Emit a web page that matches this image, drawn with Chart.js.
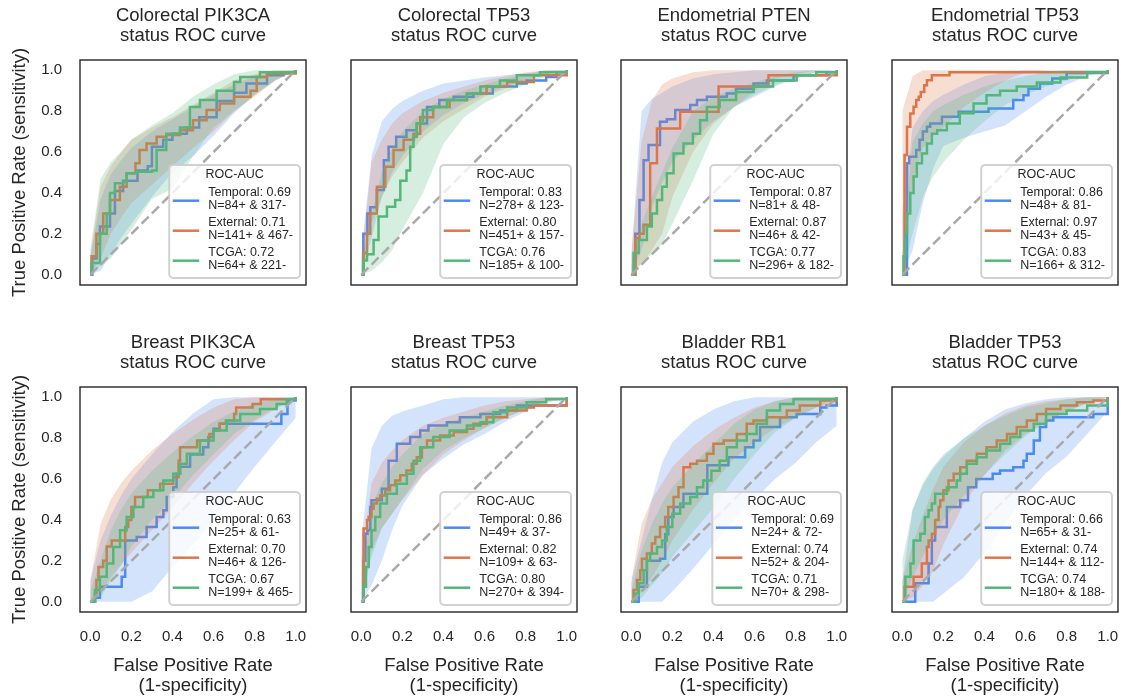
<!DOCTYPE html>
<html>
<head>
<meta charset="utf-8">
<script src="https://cdn.jsdelivr.net/npm/chart.js@4.4.1/dist/chart.umd.min.js"></script>
<style>
  body { margin: 0; background: #fff; width: 1121px; height: 700px; overflow: hidden; position: relative; }
  canvas { position: absolute; }
</style>
</head>
<body>
<script>
// panel titles, first line (second line is always "status ROC curve")
const titles = ['Colorectal PIK3CA', 'Colorectal TP53', 'Endometrial PTEN', 'Endometrial TP53',
                'Breast PIK3CA', 'Breast TP53', 'Bladder RB1', 'Bladder TP53'];

const tickValues = [0, 0.2, 0.4, 0.6, 0.8, 1.0];

// ROC-AUC per panel
const aucTemporal = [0.69, 0.83, 0.87, 0.86, 0.63, 0.86, 0.69, 0.66];
const aucExternal = [0.71, 0.80, 0.87, 0.97, 0.70, 0.82, 0.74, 0.74];
const aucTcga     = [0.72, 0.76, 0.77, 0.83, 0.67, 0.80, 0.71, 0.74];

// cohort sizes (positives / negatives)
const posTemporal = [84, 278, 81, 48, 25, 49, 24, 65];
const negTemporal = [317, 123, 48, 81, 61, 37, 72, 31];
const posExternal = [141, 451, 46, 43, 46, 109, 52, 144];
const negExternal = [467, 157, 42, 45, 126, 63, 204, 112];
const posTcga     = [64, 185, 296, 166, 199, 270, 70, 180];
const negTcga     = [221, 100, 182, 312, 465, 394, 298, 188];

// ROC curves as flat [fpr, tpr, fpr, tpr, ...] lists (step-before)
const rocTemporal = [
  [0,0, 0.01,0.08, 0.03,0.15, 0.047,0.236, 0.096,0.30, 0.12,0.41, 0.16,0.46, 0.23,0.51, 0.28,0.53, 0.30,0.626, 0.355,0.66, 0.40,0.69, 0.47,0.72, 0.53,0.77, 0.615,0.85, 0.70,0.89, 0.76,0.935, 0.86,0.975, 0.94,0.99, 1,1],
  [0,0, 0.01,0.2, 0.03,0.30, 0.044,0.33, 0.076,0.415, 0.11,0.56, 0.133,0.626, 0.17,0.675, 0.22,0.707, 0.27,0.74, 0.32,0.82, 0.38,0.854, 0.45,0.87, 0.546,0.886, 0.64,0.92, 0.757,0.935, 0.805,0.95, 0.90,0.967, 0.95,0.99, 1,1],
  [0,0, 0.02,0.2, 0.04,0.366, 0.06,0.56, 0.084,0.634, 0.14,0.748, 0.173,0.76, 0.214,0.805, 0.287,0.83, 0.32,0.854, 0.368,0.87, 0.465,0.886, 0.51,0.91, 0.595,0.935, 0.66,0.95, 0.79,0.976, 0.95,0.99, 1,1],
  [0,0, 0.011,0, 0.023,0.545, 0.034,0.577, 0.068,0.61, 0.084,0.66, 0.1,0.70, 0.12,0.724, 0.136,0.74, 0.193,0.772, 0.274,0.797, 0.42,0.813, 0.54,0.854, 0.59,0.878, 0.614,0.91, 0.67,0.935, 0.73,0.96, 0.80,0.987, 1,1],
  [0,0, 0.023,0.02, 0.047,0.073, 0.153,0.122, 0.17,0.30, 0.226,0.317, 0.274,0.366, 0.323,0.415, 0.356,0.447, 0.372,0.512, 0.404,0.56, 0.42,0.626, 0.437,0.66, 0.486,0.72, 0.55,0.756, 0.575,0.805, 0.60,0.846, 0.63,0.87, 0.93,0.918, 0.96,0.984, 1,1],
  [0,0, 0.011,0.2, 0.02,0.333, 0.03,0.35, 0.044,0.463, 0.05,0.496, 0.1,0.553, 0.133,0.69, 0.173,0.772, 0.238,0.805, 0.287,0.837, 0.327,0.862, 0.417,0.878, 0.48,0.902, 0.58,0.918, 0.676,0.935, 0.757,0.96, 1,1],
  [0,0, 0.036,0.073, 0.076,0.2, 0.14,0.21, 0.165,0.33, 0.18,0.415, 0.206,0.463, 0.254,0.528, 0.37,0.667, 0.473,0.707, 0.554,0.756, 0.595,0.789, 0.627,0.854, 0.724,0.902, 0.805,0.918, 0.92,0.95, 0.95,0.96, 1,1],
  [0,0, 0.04,0, 0.063,0.09, 0.128,0.187, 0.144,0.30, 0.16,0.366, 0.217,0.463, 0.282,0.496, 0.32,0.56, 0.36,0.6, 0.44,0.626, 0.476,0.642, 0.54,0.658, 0.59,0.69, 0.606,0.724, 0.64,0.789, 0.67,0.854, 0.70,0.886, 0.735,0.902, 0.93,0.918, 1,1]
];
const rocExternal = [
  [0,0, 0.006,0.09, 0.03,0.2, 0.063,0.30, 0.096,0.366, 0.144,0.43, 0.177,0.496, 0.22,0.545, 0.24,0.61, 0.274,0.642, 0.323,0.675, 0.37,0.683, 0.437,0.707, 0.50,0.756, 0.566,0.805, 0.63,0.837, 0.70,0.87, 0.78,0.90, 0.81,0.967, 0.86,0.984, 1,1],
  [0,0, 0.011,0.106, 0.028,0.2, 0.044,0.3, 0.076,0.43, 0.117,0.528, 0.157,0.61, 0.206,0.66, 0.254,0.69, 0.287,0.77, 0.35,0.82, 0.43,0.854, 0.514,0.886, 0.61,0.92, 0.71,0.943, 0.84,0.976, 1,1],
  [0,0, 0.02,0.18, 0.04,0.2, 0.06,0.244, 0.092,0.545, 0.125,0.715, 0.238,0.797, 0.425,0.92, 0.668,0.976, 1,1],
  [0,0, 0.011,0.585, 0.023,0.724, 0.039,0.789, 0.055,0.821, 0.068,0.854, 0.08,0.87, 0.09,0.894, 0.107,0.927, 0.12,0.951, 0.144,0.976, 0.23,0.99, 1,1],
  [0,0, 0.023,0.04, 0.03,0.106, 0.04,0.17, 0.063,0.2, 0.08,0.27, 0.104,0.30, 0.145,0.30, 0.17,0.366, 0.185,0.40, 0.2,0.463, 0.218,0.512, 0.274,0.512, 0.28,0.545, 0.34,0.577, 0.404,0.61, 0.43,0.69, 0.437,0.756, 0.5,0.756, 0.52,0.789, 0.55,0.789, 0.58,0.82, 0.6,0.837, 0.63,0.87, 0.66,0.886, 0.70,0.918, 0.71,0.95, 0.76,0.95, 0.79,0.967, 0.83,0.99, 1,1],
  [0,0, 0.011,0.358, 0.028,0.4, 0.036,0.415, 0.05,0.455, 0.06,0.48, 0.076,0.504, 0.092,0.52, 0.117,0.545, 0.14,0.57, 0.165,0.593, 0.19,0.618, 0.22,0.642, 0.246,0.675, 0.27,0.707, 0.295,0.756, 0.32,0.789, 0.384,0.813, 0.45,0.83, 0.514,0.846, 0.546,0.87, 0.61,0.902, 0.71,0.935, 0.805,0.95, 0.84,0.96, 1,0.984, 1,1],
  [0,0, 0.011,0.057, 0.028,0.106, 0.044,0.154, 0.052,0.21, 0.076,0.236, 0.1,0.285, 0.117,0.317, 0.14,0.366, 0.165,0.415, 0.18,0.463, 0.206,0.512, 0.23,0.56, 0.254,0.658, 0.287,0.675, 0.32,0.69, 0.368,0.724, 0.4,0.772, 0.45,0.789, 0.514,0.82, 0.562,0.87, 0.595,0.886, 0.66,0.902, 0.757,0.935, 0.82,0.96, 0.92,0.984, 1,1],
  [0,0, 0.011,0.073, 0.03,0.073, 0.055,0.122, 0.095,0.187, 0.12,0.268, 0.128,0.3, 0.144,0.333, 0.16,0.4, 0.177,0.463, 0.185,0.496, 0.2,0.545, 0.225,0.593, 0.25,0.626, 0.282,0.658, 0.314,0.69, 0.363,0.724, 0.41,0.756, 0.46,0.789, 0.51,0.82, 0.557,0.854, 0.606,0.886, 0.655,0.918, 0.70,0.943, 0.77,0.96, 0.85,0.976, 0.93,0.984, 1,1]
];
const rocTcga = [
  [0,0, 0.006,0.057, 0.047,0.2, 0.08,0.3, 0.096,0.40, 0.12,0.447, 0.16,0.455, 0.177,0.496, 0.225,0.504, 0.30,0.51, 0.323,0.61, 0.37,0.69, 0.437,0.72, 0.485,0.82, 0.534,0.854, 0.615,0.90, 0.70,0.943, 0.73,0.967, 0.826,0.99, 1,1],
  [0,0, 0.011,0.07, 0.028,0.1, 0.06,0.17, 0.084,0.285, 0.125,0.333, 0.165,0.366, 0.19,0.46, 0.22,0.51, 0.238,0.626, 0.254,0.675, 0.27,0.74, 0.30,0.805, 0.35,0.82, 0.417,0.854, 0.514,0.886, 0.58,0.92, 0.675,0.95, 0.757,0.976, 0.87,0.99, 1,1],
  [0,0, 0.011,0.106, 0.036,0.17, 0.076,0.236, 0.1,0.3, 0.125,0.366, 0.15,0.43, 0.173,0.496, 0.206,0.593, 0.254,0.642, 0.30,0.69, 0.335,0.756, 0.368,0.82, 0.43,0.854, 0.51,0.894, 0.595,0.92, 0.69,0.95, 0.805,0.976, 0.9,0.99, 1,1],
  [0,0, 0.006,0.09, 0.015,0.2, 0.023,0.3, 0.039,0.4, 0.055,0.48, 0.071,0.545, 0.096,0.593, 0.12,0.642, 0.144,0.69, 0.17,0.707, 0.217,0.74, 0.28,0.79, 0.347,0.837, 0.41,0.878, 0.476,0.90, 0.557,0.92, 0.655,0.94, 0.77,0.965, 0.9,0.99, 1,1],
  [0,0, 0.023,0.057, 0.047,0.122, 0.08,0.187, 0.112,0.268, 0.145,0.35, 0.177,0.415, 0.21,0.463, 0.258,0.512, 0.307,0.545, 0.356,0.593, 0.404,0.626, 0.437,0.675, 0.47,0.724, 0.534,0.789, 0.6,0.837, 0.664,0.886, 0.73,0.918, 0.826,0.943, 0.907,0.967, 0.956,0.99, 1,1],
  [0,0, 0.011,0.073, 0.023,0.17, 0.036,0.268, 0.05,0.35, 0.068,0.415, 0.092,0.48, 0.125,0.528, 0.173,0.577, 0.222,0.626, 0.254,0.69, 0.287,0.756, 0.35,0.805, 0.43,0.837, 0.514,0.862, 0.58,0.878, 0.643,0.927, 0.71,0.95, 0.805,0.976, 0.9,0.99, 1,1],
  [0,0, 0.02,0.04, 0.036,0.09, 0.06,0.154, 0.076,0.2, 0.092,0.236, 0.125,0.268, 0.15,0.3, 0.173,0.366, 0.2,0.43, 0.238,0.48, 0.287,0.512, 0.32,0.56, 0.35,0.593, 0.39,0.64, 0.43,0.69, 0.465,0.756, 0.514,0.789, 0.562,0.82, 0.61,0.87, 0.66,0.935, 0.724,0.967, 0.79,0.99, 1,1],
  [0,0, 0.015,0.122, 0.04,0.187, 0.055,0.3, 0.088,0.333, 0.11,0.415, 0.128,0.447, 0.144,0.48, 0.16,0.528, 0.217,0.56, 0.25,0.56, 0.265,0.593, 0.282,0.626, 0.314,0.675, 0.363,0.707, 0.41,0.74, 0.476,0.772, 0.525,0.805, 0.574,0.837, 0.64,0.87, 0.70,0.918, 0.8,0.935, 0.9,0.96, 1,0.976, 1,1]
];

// confidence bands, sampled at bandX
const bandX = [0, 0.05, 0.1, 0.15, 0.2, 0.3, 0.4, 0.5, 0.6, 0.7, 0.8, 0.9, 1];
const hiTemporal = [
  [0.08, 0.37, 0.49, 0.56, 0.62, 0.70, 0.76, 0.82, 0.88, 0.93, 0.97, 0.99, 1],
  [0.10, 0.58, 0.75, 0.81, 0.85, 0.90, 0.935, 0.95, 0.965, 0.975, 0.985, 0.995, 1],
  [0.10, 0.80, 0.86, 0.89, 0.92, 0.96, 0.98, 0.99, 1, 1, 1, 1, 1],
  [0.30, 0.72, 0.80, 0.85, 0.88, 0.93, 0.97, 0.99, 1, 1, 1, 1, 1],
  [0.10, 0.30, 0.42, 0.52, 0.60, 0.72, 0.83, 0.92, 0.99, 1, 1, 1, 1],
  [0.30, 0.75, 0.86, 0.91, 0.93, 0.96, 0.99, 1, 1, 1, 1, 1, 1],
  [0.10, 0.30, 0.50, 0.68, 0.78, 0.88, 0.94, 0.98, 1, 1, 1, 1, 1],
  [0.10, 0.45, 0.57, 0.65, 0.71, 0.80, 0.88, 0.94, 0.97, 0.99, 1, 1, 1]
];
const loTemporal = [
  [0, 0.02, 0.10, 0.18, 0.25, 0.38, 0.50, 0.58, 0.68, 0.79, 0.88, 0.95, 1],
  [0, 0.18, 0.38, 0.50, 0.58, 0.70, 0.78, 0.84, 0.88, 0.92, 0.95, 0.98, 1],
  [0, 0.12, 0.33, 0.45, 0.55, 0.66, 0.75, 0.82, 0.87, 0.92, 0.96, 0.99, 1],
  [0, 0.12, 0.35, 0.52, 0.63, 0.67, 0.70, 0.73, 0.80, 0.87, 0.93, 0.97, 1],
  [0, 0, 0, 0, 0, 0.05, 0.17, 0.28, 0.40, 0.53, 0.66, 0.78, 0.90],
  [0, 0.08, 0.20, 0.35, 0.47, 0.62, 0.70, 0.77, 0.82, 0.88, 0.93, 0.97, 1],
  [0, 0, 0, 0, 0.05, 0.16, 0.28, 0.40, 0.50, 0.60, 0.68, 0.78, 0.86],
  [0, 0, 0, 0, 0.04, 0.12, 0.24, 0.38, 0.52, 0.63, 0.71, 0.82, 0.93]
];
const hiExternal = [
  [0.10, 0.43, 0.53, 0.60, 0.66, 0.72, 0.77, 0.83, 0.89, 0.95, 0.98, 1, 1],
  [0.08, 0.55, 0.66, 0.74, 0.79, 0.85, 0.89, 0.92, 0.95, 0.97, 0.99, 1, 1],
  [0.10, 0.65, 0.85, 0.93, 0.96, 0.99, 1, 1, 1, 1, 1, 1, 1],
  [0.80, 0.97, 1, 1, 1, 1, 1, 1, 1, 1, 1, 1, 1],
  [0.10, 0.38, 0.50, 0.58, 0.64, 0.74, 0.82, 0.89, 0.95, 0.99, 1, 1, 1],
  [0.20, 0.58, 0.68, 0.74, 0.79, 0.86, 0.90, 0.93, 0.96, 0.98, 0.99, 1, 1],
  [0.10, 0.38, 0.50, 0.58, 0.66, 0.76, 0.84, 0.90, 0.95, 0.98, 1, 1, 1],
  [0.10, 0.28, 0.42, 0.55, 0.66, 0.78, 0.86, 0.92, 0.96, 0.98, 0.99, 1, 1]
];
const loExternal = [
  [0, 0.08, 0.20, 0.28, 0.35, 0.44, 0.53, 0.62, 0.70, 0.80, 0.87, 0.95, 1],
  [0, 0.25, 0.38, 0.48, 0.55, 0.67, 0.75, 0.81, 0.87, 0.91, 0.95, 0.98, 1],
  [0, 0.05, 0.12, 0.20, 0.38, 0.60, 0.74, 0.82, 0.90, 0.96, 0.98, 1, 1],
  [0, 0.45, 0.62, 0.68, 0.72, 0.82, 0.89, 0.95, 0.99, 1, 1, 1, 1],
  [0, 0.04, 0.12, 0.18, 0.24, 0.35, 0.46, 0.58, 0.69, 0.79, 0.88, 0.94, 1],
  [0, 0.25, 0.36, 0.43, 0.50, 0.62, 0.72, 0.79, 0.85, 0.90, 0.94, 0.98, 1],
  [0, 0.05, 0.12, 0.20, 0.30, 0.45, 0.58, 0.70, 0.78, 0.85, 0.90, 0.95, 0.97],
  [0, 0.02, 0.08, 0.15, 0.28, 0.48, 0.62, 0.74, 0.82, 0.88, 0.93, 0.97, 1]
];
const hiTcga = [
  [0.12, 0.47, 0.55, 0.60, 0.66, 0.73, 0.79, 0.87, 0.93, 0.98, 1, 1, 1],
  [0.05, 0.30, 0.50, 0.62, 0.70, 0.80, 0.86, 0.90, 0.93, 0.96, 0.98, 1, 1],
  [0.05, 0.25, 0.38, 0.50, 0.62, 0.80, 0.87, 0.91, 0.94, 0.97, 0.99, 1, 1],
  [0.10, 0.65, 0.74, 0.80, 0.83, 0.88, 0.92, 0.95, 0.97, 0.99, 1, 1, 1],
  [0.05, 0.20, 0.35, 0.45, 0.53, 0.64, 0.73, 0.81, 0.88, 0.93, 0.97, 0.99, 1],
  [0.10, 0.47, 0.58, 0.66, 0.72, 0.82, 0.87, 0.90, 0.93, 0.96, 0.98, 1, 1],
  [0.05, 0.25, 0.38, 0.48, 0.56, 0.67, 0.77, 0.87, 0.94, 0.98, 1, 1, 1],
  [0.20, 0.45, 0.58, 0.66, 0.72, 0.80, 0.86, 0.91, 0.95, 0.97, 0.99, 1, 1]
];
const loTcga = [
  [0, 0.04, 0.08, 0.15, 0.22, 0.37, 0.42, 0.58, 0.72, 0.80, 0.88, 0.95, 1],
  [0, 0.02, 0.06, 0.12, 0.22, 0.40, 0.64, 0.77, 0.84, 0.89, 0.93, 0.97, 1],
  [0, 0.06, 0.10, 0.15, 0.25, 0.46, 0.69, 0.82, 0.88, 0.93, 0.96, 0.99, 1],
  [0, 0.20, 0.38, 0.48, 0.55, 0.66, 0.75, 0.83, 0.88, 0.92, 0.95, 0.98, 1],
  [0, 0.02, 0.10, 0.18, 0.27, 0.40, 0.50, 0.62, 0.72, 0.82, 0.89, 0.95, 1],
  [0, 0.22, 0.36, 0.43, 0.50, 0.65, 0.74, 0.80, 0.85, 0.90, 0.94, 0.98, 1],
  [0, 0.02, 0.08, 0.14, 0.22, 0.34, 0.46, 0.60, 0.72, 0.83, 0.90, 0.95, 1],
  [0, 0.12, 0.22, 0.32, 0.40, 0.52, 0.62, 0.72, 0.81, 0.88, 0.93, 0.97, 1]
];

const FONT = "'Liberation Sans', Arial, sans-serif";
const TEXT = '#262626';
Chart.defaults.font.family = FONT;
Chart.defaults.color = TEXT;

const seriesNames = ['Temporal', 'External', 'TCGA'];
const seriesColors = ['#4a8af4', '#df7649', '#55b67a'];
const rocs = [rocTemporal, rocExternal, rocTcga];
const his = [hiTemporal, hiExternal, hiTcga];
const los = [loTemporal, loExternal, loTcga];
const aucs = [aucTemporal, aucExternal, aucTcga];
const poss = [posTemporal, posExternal, posTcga];
const negs = [negTemporal, negExternal, negTcga];

// axes frame positions on the page
const frameLeft = [80, 351, 621, 892];
const frameTop = [60, 387];

function toPoints(flat) {
  const pts = [];
  for (let i = 0; i < flat.length; i += 2) pts.push({ x: flat[i], y: flat[i + 1] });
  return pts;
}
function bandPoints(ys) {
  return ys.map((y, i) => ({ x: bandX[i], y: y }));
}
function alpha(hex, a) {
  const n = parseInt(hex.slice(1), 16);
  return `rgba(${n >> 16}, ${(n >> 8) & 255}, ${n & 255}, ${a})`;
}
// keep every panel's plot area the same size, whatever its tick labels need
function fixedBox(w, h) {
  return s => {
    if (w) s.width = w;
    if (h) s.height = h;
    s.paddingLeft = s.paddingRight = s.paddingTop = s.paddingBottom = 0;
  };
}

// frame around the plot area plus the boxed ROC-AUC legend
const rocLegend = {
  id: 'rocLegend',
  afterDatasetsDraw(chart, args, opts) {
    const { ctx, chartArea: a } = chart;
    ctx.save();
    ctx.strokeStyle = TEXT;
    ctx.lineWidth = 1.4;
    ctx.strokeRect(a.left, a.top, a.right - a.left, a.bottom - a.top);

    ctx.font = '12.5px ' + FONT;
    let maxW = 0;
    opts.entries.forEach(e => e.forEach(t => { maxW = Math.max(maxW, ctx.measureText(t).width); }));
    const w = 39 + maxW + 7, h = 113;
    const x = a.right - 6 - w, y = a.bottom - 7 - h;

    ctx.beginPath();
    ctx.roundRect(x, y, w, h, 4);
    ctx.fillStyle = 'rgba(255,255,255,0.8)';
    ctx.fill();
    ctx.strokeStyle = 'rgba(204,204,204,0.9)';
    ctx.lineWidth = 2;
    ctx.stroke();

    ctx.fillStyle = TEXT;
    ctx.textBaseline = 'middle';
    ctx.textAlign = 'center';
    ctx.fillText('ROC-AUC', x + w / 2, y + 10);
    ctx.textAlign = 'left';
    opts.entries.forEach((e, i) => {
      const hy = y + 35.7 + 30 * i;
      ctx.strokeStyle = seriesColors[i];
      ctx.lineWidth = 2.5;
      ctx.beginPath();
      ctx.moveTo(x + 3.5, hy);
      ctx.lineTo(x + 30, hy);
      ctx.stroke();
      ctx.fillStyle = TEXT;
      ctx.fillText(e[0], x + 39, hy - 8);
      ctx.fillText(e[1], x + 39, hy + 5);
    });
    ctx.restore();
  }
};

titles.forEach((title, p) => {
  const col = p % 4, row = Math.floor(p / 4);
  const cv = document.createElement('canvas');
  cv.width = 308;
  cv.height = 373;
  cv.style.left = (frameLeft[col] - 80) + 'px';
  cv.style.top = (frameTop[row] - 60) + 'px';
  document.body.appendChild(cv);

  const datasets = [];
  // later series (and their bands) sit on top of earlier ones; lower order draws on top
  seriesNames.forEach((name, s) => {
    const c = seriesColors[s];
    const base = 6 - 2 * s;
    datasets.push({
      data: toPoints(rocs[s][p]), borderColor: c, borderWidth: 2.5, stepped: 'before',
      pointRadius: 0, fill: false, order: base
    });
    datasets.push({
      data: bandPoints(his[s][p]), borderWidth: 0, borderColor: 'transparent',
      backgroundColor: alpha(c, 0.24), pointRadius: 0, fill: '+1', order: base - 1
    });
    datasets.push({
      data: bandPoints(los[s][p]), borderWidth: 0, borderColor: 'transparent',
      pointRadius: 0, fill: false, order: base - 1
    });
  });
  // chance line
  datasets.push({
    data: [{ x: 0, y: 0 }, { x: 1, y: 1 }], borderColor: '#a9a9a9', borderWidth: 2.5,
    borderDash: [10, 4.5], pointRadius: 0, fill: false, order: 0
  });

  const entries = seriesNames.map((name, s) => [
    name + ': ' + aucs[s][p].toFixed(2),
    'N=' + poss[s][p] + '+ & ' + negs[s][p] + '-'
  ]);

  new Chart(cv, {
    type: 'line',
    data: { datasets },
    options: {
      responsive: false,
      animation: false,
      devicePixelRatio: 1,
      layout: { padding: { right: 2 } },
      plugins: {
        legend: { display: false },
        tooltip: { enabled: false },
        title: {
          display: true, fullSize: false, color: TEXT,
          text: [title, 'status ROC curve'],
          font: { size: 18.5, weight: 'normal', lineHeight: '20px' },
          padding: { top: 6, bottom: 14 }
        },
        rocLegend: { entries }
      },
      scales: {
        x: {
          type: 'linear', min: -0.05, max: 1.05,
          grid: { display: false, drawTicks: false },
          border: { display: false },
          afterBuildTicks: s => { s.ticks = tickValues.map(v => ({ value: v })); },
          afterFit: fixedBox(0, 88),
          ticks: { display: row === 1, padding: 16, color: TEXT, font: { size: 15 }, callback: v => v.toFixed(1) },
          title: {
            display: row === 1, color: TEXT,
            text: ['False Positive Rate', '(1-specificity)'],
            font: { size: 18.5, lineHeight: '20px' },
            padding: { top: 0, bottom: 4 }
          }
        },
        y: {
          type: 'linear', min: -0.05, max: 1.05,
          grid: { display: false, drawTicks: false },
          border: { display: false },
          afterBuildTicks: s => { s.ticks = tickValues.map(v => ({ value: v })); },
          afterFit: fixedBox(80, 0),
          ticks: { display: col === 0, padding: 18, color: TEXT, font: { size: 15 }, callback: v => v.toFixed(1) },
          title: {
            display: col === 0, color: TEXT,
            text: 'True Positive Rate (sensitivity)',
            font: { size: 18.5, lineHeight: '20px' },
            padding: { top: 10, bottom: 0 }
          }
        }
      }
    },
    plugins: [rocLegend]
  });
});
</script>
</body>
</html>
